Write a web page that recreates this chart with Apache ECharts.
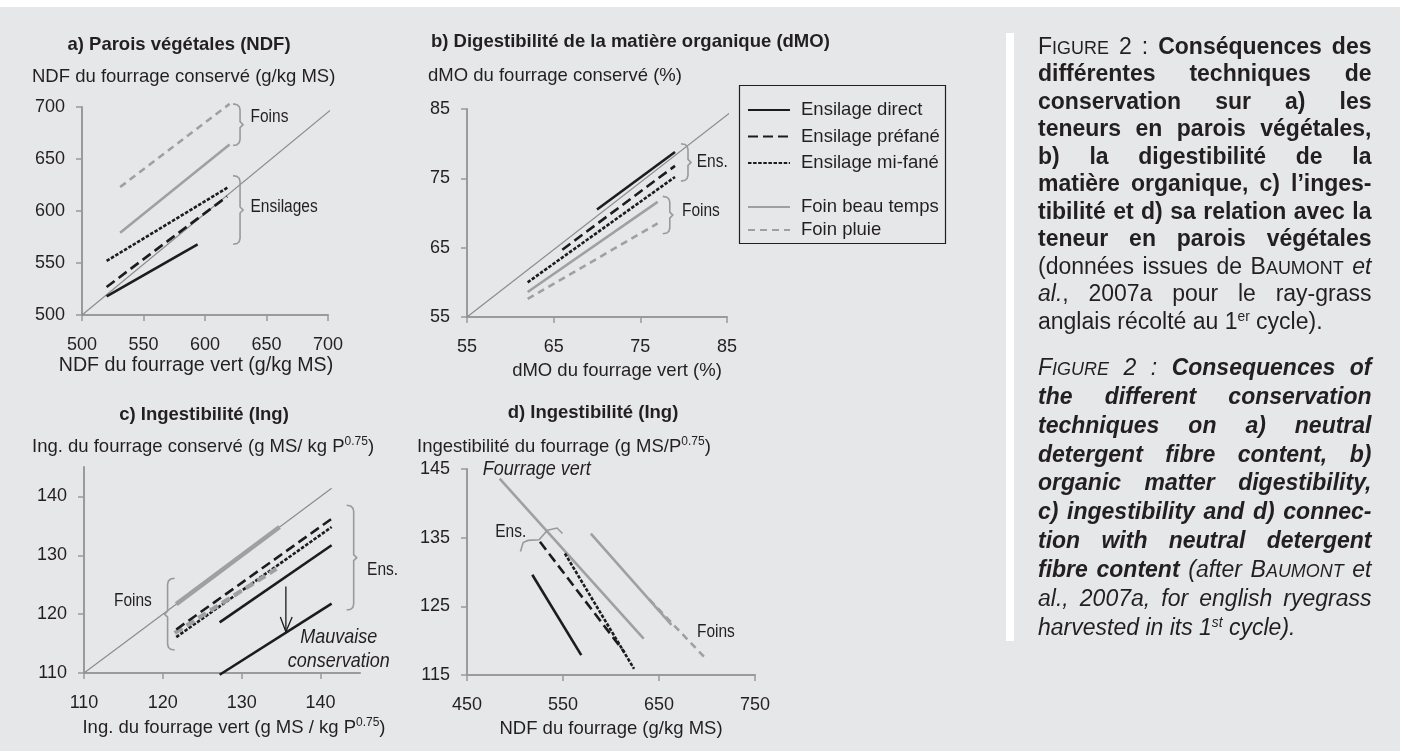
<!DOCTYPE html>
<html><head><meta charset="utf-8">
<script src="https://cdn.jsdelivr.net/npm/echarts@6/dist/echarts.min.js"></script>
<style>html,body{margin:0;padding:0;background:#fff;}#c{width:1405px;height:751px;}</style>
</head><body><div id="c"></div>
<script>
// ---------------- DATA ----------------
const seriesNames = ['Ensilage direct', 'Ensilage préfané', 'Ensilage mi-fané', 'Foin beau temps', 'Foin pluie'];

// a) NDF (g/kg MS): [vert, conservé]
const ndfTicks = [500, 550, 600, 650, 700];
const ndfDiag = [[500, 500], [705, 700]];
const ndfDirect = [[520, 518], [594, 568]];
const ndfPrefane = [[520, 527], [618, 614]];
const ndfMifane = [[520, 552], [619, 623]];
const ndfFoinBeau = [[531, 579], [620, 664]];
const ndfFoinPluie = [[531, 623], [620, 703]];

// b) dMO (%)
const dmoTicks = [55, 65, 75, 85];
const dmoDiag = [[55, 55], [85.9, 85]];
const dmoDirect = [[70, 70.5], [79, 78.8]];
const dmoPrefane = [[66, 64.7], [79, 76.8]];
const dmoMifane = [[62, 60.0], [79, 75.2]];
const dmoFoinBeau = [[62, 58.6], [77, 71.6]];
const dmoFoinPluie = [[62, 57.6], [77, 68.5]];

// c) Ingestibilité (g MS / kg P0.75)
const ingTicks = [110, 120, 130, 140];
const ingDiag = [[110, 110], [141.4, 141.4]];
const ingFoinBeau = [[121.7, 121.7], [134.8, 134.8]];
const ingFoinPluie = [[121.5, 116.8], [134.4, 127.7]];
const ingPrefane = [[121.7, 117.4], [141.4, 136.2]];
const ingMifane = [[121.7, 116.1], [141.4, 134.8]];
const ingDirect = [[127.2, 118.6], [141.4, 131.7]];
const ingMauvaise = [[127.2, 109.7], [141.4, 121.8]];
const ingArrow = [[135.6, 124.7], [135.6, 117.0]];
const ingArrowHead = [[134.9, 119.5], [135.6, 117.0], [136.4, 119.5]];

// d) Ingestibilité vs NDF
const ndfDTicks = [450, 550, 650, 750];
const ingDTicks = [115, 125, 135, 145];
const dVert = [[484, 143.6], [634, 120.3]];
const dFoinBeau = [[579, 135.6], [663, 122.3]];
const dFoinPluie = [[640, 126.0], [700, 117.2]];
const dDirect = [[518, 129.6], [569, 117.9]];
const dPrefane = [[526, 134.4], [614, 118.3]];
const dMifane = [[552, 132.7], [624, 115.9]];

// ---------------- STYLE ----------------
const FONT = 'Liberation Sans';
const INK = '#231f20';
const BG = '#e6e7e8';
const AX = '#9a9a9a';
const BLK = '#1c1c1c';
const GRY = '#a0a0a0';
const FS = 18.5;

const S = {
  direct: {color: BLK, width: 2.6, type: 'solid'},
  prefane: {color: BLK, width: 2.6, type: [10, 5]},
  mifane: {color: BLK, width: 2.6, type: [3.5, 1.6]},
  beau: {color: GRY, width: 2.6, type: 'solid'},
  pluie: {color: GRY, width: 2.6, type: [7, 5]},
  diag: {color: '#8c8c8c', width: 1.2, type: 'solid'},
  arrow: {color: BLK, width: 1.3, type: 'solid'}
};

const chart = echarts.init(document.getElementById('c'), null, {renderer: 'canvas', width: 1405, height: 751});

function axis(g, min, max, ticks, isX, extra) {
  return Object.assign({
    type: 'value', gridIndex: g, min: min, max: max,
    axisLine: {show: true, onZero: false, lineStyle: {color: AX, width: 2}},
    axisTick: {show: true, inside: false, length: 6, customValues: ticks, lineStyle: {color: AX, width: 1.5}},
    axisLabel: {customValues: ticks, color: INK, fontFamily: FONT, fontSize: 18, margin: isX ? 21 : 17},
    splitLine: {show: false}
  }, extra || {});
}
function nameStyle(pad, fs) {
  return {color: INK, fontFamily: FONT, fontSize: fs || FS, lineHeight: 22, padding: pad,
    rich: {sup: {fontSize: 12, lineHeight: 12, verticalAlign: 'top', color: INK, fontFamily: FONT}}};
}
function ln(name, g, data, style, z) {
  return {type: 'line', name: name, xAxisIndex: g, yAxisIndex: g, data: data, symbol: 'none', showSymbol: false,
    lineStyle: style, clip: false, silent: true, z: z || 3, emphasis: {disabled: true}, animation: false};
}

const option = {
  backgroundColor: BG,
  animation: false,
  textStyle: {fontFamily: FONT},
  grid: [
    {left: 82, top: 107, width: 246, height: 208},
    {left: 467, top: 109, width: 260, height: 208},
    {left: 84, top: 467, width: 276, height: 206},
    {left: 467, top: 469, width: 288, height: 206}
  ],
  xAxis: [
    axis(0, 500, 700, ndfTicks, true, {name: 'NDF du fourrage vert (g/kg MS)', nameLocation: 'middle', nameGap: 39, nameTextStyle: nameStyle([0, 18, 0, 0], 19.6)}),
    axis(1, 55, 85, dmoTicks, true, {name: 'dMO du fourrage vert (%)', nameLocation: 'middle', nameGap: 43, nameTextStyle: nameStyle([0, 0, 0, 40])}),
    axis(2, 110, 145, ingTicks, true, {name: 'Ing. du fourrage vert (g MS / kg P{sup|0.75})', nameLocation: 'middle', nameGap: 44, nameTextStyle: nameStyle([0, 0, 0, 24])}),
    axis(3, 450, 750, ndfDTicks, true, {name: 'NDF du fourrage (g/kg MS)', nameLocation: 'middle', nameGap: 43, nameTextStyle: nameStyle([0, 0, 0, 0])})
  ],
  yAxis: [
    axis(0, 500, 700, ndfTicks, false),
    axis(1, 55, 85, dmoTicks, false),
    axis(2, 110, 145, ingTicks, false),
    axis(3, 115, 145, ingDTicks, false)
  ],
  legend: [
    {data: seriesNames.slice(0, 3), orient: 'vertical', left: 742, top: 95, itemWidth: 42, itemHeight: 14, itemGap: 6.5,
      selectedMode: false, itemStyle: {opacity: 0},
      textStyle: {color: INK, fontFamily: FONT, fontSize: FS, lineHeight: 20, padding: [0, 0, 0, 6]}},
    {data: seriesNames.slice(3), orient: 'vertical', left: 742, top: 192, itemWidth: 42, itemHeight: 14, itemGap: 3,
      selectedMode: false, itemStyle: {opacity: 0},
      textStyle: {color: INK, fontFamily: FONT, fontSize: FS, lineHeight: 20, padding: [0, 0, 0, 6]}}
  ],
  series: [
    // a
    ln(null, 0, ndfDiag, S.diag, 2),
    ln(seriesNames[4], 0, ndfFoinPluie, S.pluie),
    ln(seriesNames[3], 0, ndfFoinBeau, S.beau),
    ln(seriesNames[2], 0, ndfMifane, S.mifane),
    ln(seriesNames[1], 0, ndfPrefane, S.prefane),
    ln(seriesNames[0], 0, ndfDirect, S.direct),
    // b
    ln(null, 1, dmoDiag, S.diag, 2),
    ln(seriesNames[4], 1, dmoFoinPluie, S.pluie),
    ln(seriesNames[3], 1, dmoFoinBeau, S.beau),
    ln(seriesNames[2], 1, dmoMifane, S.mifane),
    ln(seriesNames[1], 1, dmoPrefane, S.prefane),
    ln(seriesNames[0], 1, dmoDirect, S.direct),
    // c
    ln(null, 2, ingDiag, S.diag, 2),
    ln(seriesNames[3], 2, ingFoinBeau, Object.assign({}, S.beau, {width: 4.5})),
    ln(seriesNames[2], 2, ingMifane, S.mifane),
    ln(seriesNames[4], 2, ingFoinPluie, Object.assign({}, S.pluie, {width: 4.2, type: [9, 5]})),
    ln(seriesNames[1], 2, ingPrefane, S.prefane),
    ln(seriesNames[0], 2, ingDirect, S.direct),
    ln(null, 2, ingMauvaise, S.direct),
    ln(null, 2, ingArrow, S.arrow),
    ln(null, 2, ingArrowHead, S.arrow),
    // d
    ln(null, 3, dVert, S.beau, 2),
    ln(seriesNames[3], 3, dFoinBeau, S.beau),
    ln(seriesNames[4], 3, dFoinPluie, S.pluie),
    ln(seriesNames[0], 3, dDirect, S.direct),
    ln(seriesNames[1], 3, dPrefane, S.prefane),
    ln(seriesNames[2], 3, dMifane, S.mifane)
  ]
};
chart.setOption(option);

// ---------------- ANNOTATIONS ----------------
const px = (g, p) => chart.convertToPixel({gridIndex: g}, p);
const BRK = '#9a9a9a';
const graphics = [];

// page frame
graphics.push({type: 'rect', shape: {x: 0, y: 0, width: 1405, height: 7}, style: {fill: '#fff'}, silent: true, z: 100});
graphics.push({type: 'rect', shape: {x: 1400, y: 0, width: 5, height: 751}, style: {fill: '#fff'}, silent: true, z: 100});
graphics.push({type: 'rect', shape: {x: 1006, y: 33, width: 8, height: 608}, style: {fill: '#fff'}, silent: true, z: 100});
// legend frame
graphics.push({type: 'rect', shape: {x: 739.5, y: 85.5, width: 206, height: 158}, style: {fill: 'none', stroke: INK, lineWidth: 1.2}, silent: true, z: 100});

function txt(x, y, text, o) {
  o = o || {};
  graphics.push({type: 'text', x: x, y: y, scaleY: o.sy || 1, silent: true, z: 100, style: {
    text: text, fill: INK, fontFamily: FONT, fontSize: o.fs || FS, fontWeight: o.bold ? 'bold' : 'normal',
    fontStyle: o.italic ? 'italic' : 'normal', align: o.align || 'left', verticalAlign: 'middle',
    lineHeight: 22,
    rich: {sup: {fontSize: 12, lineHeight: 12, verticalAlign: 'top', fill: INK, fontFamily: FONT}}
  }});
}
// panel titles and y-axis names
txt(179, 45, 'a) Parois végétales (NDF)', {bold: true, align: 'center'});
txt(431, 42, 'b) Digestibilité de la matière organique (dMO)', {bold: true});
txt(204, 415, 'c) Ingestibilité (Ing)', {bold: true, align: 'center'});
txt(593, 413, 'd) Ingestibilité (Ing)', {bold: true, align: 'center'});
txt(32, 77, 'NDF du fourrage conservé (g/kg MS)');
txt(428, 76, 'dMO du fourrage conservé (%)');
txt(32, 447, 'Ing. du fourrage conservé (g MS/ kg P{sup|0.75})');
txt(417, 447, 'Ingestibilité du fourrage (g MS/P{sup|0.75})');

// brackets (data coordinates)
const vBrackets = [
  {g: 0, x: 628.5, y1: 703, y2: 663, dir: 1},
  {g: 0, x: 628.5, y1: 634, y2: 568, dir: 1},
  {g: 1, x: 80.5, y1: 80, y2: 74.6, dir: 1},
  {g: 1, x: 78.4, y1: 72.4, y2: 67, dir: 1},
  {g: 2, x: 120.6, y1: 126.1, y2: 113.9, dir: -1},
  {g: 2, x: 144.2, y1: 138.5, y2: 120.7, dir: 1}
];
vBrackets.forEach(b => {
  const p1 = px(b.g, [b.x, b.y1]), p2 = px(b.g, [b.x, b.y2]);
  const X = p1[0], Y1 = p1[1], Y2 = p2[1], Ym = (Y1 + Y2) / 2, d = b.dir;
  const pts = [[X - d * 7, Y1], [X - d * 3, Y1 + 0.8], [X - d * 0.8, Y1 + 2.8], [X, Y1 + 6],
    [X, Ym - 3], [X + d * 3, Ym], [X, Ym + 3],
    [X, Y2 - 6], [X - d * 0.8, Y2 - 2.8], [X - d * 3, Y2 - 0.8], [X - d * 7, Y2]];
  graphics.push({type: 'polyline', shape: {points: pts}, style: {fill: 'none', stroke: BRK, lineWidth: 1.6}, silent: true, z: 100});
});
const dEnsBracket = [[505.7, 133.0], [508.5, 134.3], [513.6, 134.6], [525.1, 134.7], [533.8, 136.1], [543.8, 136.4], [549.5, 135.6]];
graphics.push({type: 'polyline', shape: {points: dEnsBracket.map(p => px(3, p))},
  style: {fill: 'none', stroke: BRK, lineWidth: 1.6}, silent: true, z: 100});

const notes = [
  {g: 0, x: 637, y: 690.5, t: 'Foins', fs: 15.5, sy: 1.22},
  {g: 0, x: 637, y: 604, t: 'Ensilages', fs: 15.5, sy: 1.22},
  {g: 1, x: 81.5, y: 77.4, t: 'Ens.', fs: 15.5, sy: 1.22},
  {g: 1, x: 79.8, y: 70.3, t: 'Foins', fs: 15.5, sy: 1.22},
  {g: 2, x: 118.6, y: 122.3, t: 'Foins', fs: 15.5, sy: 1.22, align: 'right'},
  {g: 2, x: 145.9, y: 127.5, t: 'Ens.', fs: 15.5, sy: 1.22},
  {g: 2, x: 142.3, y: 116.0, t: 'Mauvaise', fs: 18, sy: 1.08, italic: true, align: 'center'},
  {g: 2, x: 142.3, y: 112.0, t: 'conservation', fs: 18, sy: 1.08, italic: true, align: 'center'},
  {g: 3, x: 495.6, y: 135.9, t: 'Ens.', fs: 15.5, sy: 1.22, align: 'center'},
  {g: 3, x: 689.5, y: 121.3, t: 'Foins', fs: 15.5, sy: 1.22},
  {g: 3, x: 466.4, y: 144.9, t: 'Fourrage vert', fs: 18, sy: 1.08, italic: true}
];
notes.forEach(n => { const p = px(n.g, [n.x, n.y]); txt(p[0], p[1], n.t, n); });

// ---------------- CAPTION (justified) ----------------
const frLines = [
  {j: true, segs: [['R', 'F'], ['SC', 'IGURE'], ['R', ' 2 : '], ['B', 'Conséquences des']]},
  {j: true, segs: [['B', 'différentes techniques de']]},
  {j: true, segs: [['B', 'conservation sur a) les']]},
  {j: true, segs: [['B', 'teneurs en parois végétales,']]},
  {j: true, segs: [['B', 'b) la digestibilité de la']]},
  {j: true, segs: [['B', 'matière organique, c) l’inges-']]},
  {j: true, segs: [['B', 'tibilité et d) sa relation avec la']]},
  {j: true, segs: [['B', 'teneur en parois végétales']]},
  {j: true, segs: [['R', '(données issues de B'], ['SC', 'AUMONT'], ['R', ' '], ['I', 'et']]},
  {j: true, segs: [['I', 'al.'], ['R', ', 2007a pour le ray-grass']]},
  {j: false, segs: [['R', 'anglais récolté au 1'], ['SUP', 'er'], ['R', ' cycle).']]}
];
const enLines = [
  {j: true, segs: [['I', 'F'], ['SCI', 'IGURE'], ['I', ' 2 : '], ['BI', 'Consequences of']]},
  {j: true, segs: [['BI', 'the different conservation']]},
  {j: true, segs: [['BI', 'techniques on a) neutral']]},
  {j: true, segs: [['BI', 'detergent fibre content, b)']]},
  {j: true, segs: [['BI', 'organic matter digestibility,']]},
  {j: true, segs: [['BI', 'c) ingestibility and d) connec-']]},
  {j: true, segs: [['BI', 'tion with neutral detergent']]},
  {j: true, segs: [['BI', 'fibre content'], ['I', ' (after B'], ['SCI', 'AUMONT'], ['I', ' et']]},
  {j: true, segs: [['I', 'al., 2007a, for english ryegrass']]},
  {j: false, segs: [['I', 'harvested in its 1'], ['SUPI', 'st'], ['I', ' cycle).']]}
];
const TFS = 23;
const tStyles = {
  R: {fontSize: TFS}, B: {fontSize: TFS, fontWeight: 'bold'}, I: {fontSize: TFS, fontStyle: 'italic'},
  BI: {fontSize: TFS, fontWeight: 'bold', fontStyle: 'italic'},
  SC: {fontSize: TFS * 0.78}, SCI: {fontSize: TFS * 0.78, fontStyle: 'italic'},
  SUP: {fontSize: TFS * 0.6, sup: true}, SUPI: {fontSize: TFS * 0.6, fontStyle: 'italic', sup: true}
};
const mctx = document.createElement('canvas').getContext('2d');
function cssFont(st) { return (st.fontStyle || 'normal') + ' ' + (st.fontWeight || 'normal') + ' ' + st.fontSize + 'px "' + FONT + '"'; }
function mw(t, st) { mctx.font = cssFont(st); return mctx.measureText(t).width; }
function layoutBlock(lines, y0, step, x0, x1) {
  lines.forEach((line, i) => {
    const words = []; let cur = [];
    line.segs.forEach(([k, t]) => {
      t.split(' ').forEach((part, idx) => {
        if (idx > 0 && cur.length) { words.push(cur); cur = []; }
        if (part) cur.push({k: k, t: part});
      });
    });
    if (cur.length) words.push(cur);
    const widths = words.map(w => w.reduce((s, tk) => s + mw(tk.t, tStyles[tk.k]), 0));
    const total = widths.reduce((a, b) => a + b, 0);
    const gap = (line.j && words.length > 1) ? (x1 - x0 - total) / (words.length - 1) : mw(' ', tStyles.R);
    let x = x0; const y = y0 + i * step;
    words.forEach(w => {
      w.forEach(tk => {
        const st = tStyles[tk.k];
        let dy = 0;
        if (st.sup) dy = -0.22 * TFS; else if (st.fontSize < TFS) dy = 0.33 * (TFS - st.fontSize);
        graphics.push({type: 'text', x: x, y: y + dy, silent: true, z: 100, style: {
          text: tk.t, fill: INK, fontFamily: FONT, fontSize: st.fontSize, fontWeight: st.fontWeight || 'normal',
          fontStyle: st.fontStyle || 'normal', align: 'left', verticalAlign: 'middle'}});
        x += mw(tk.t, st);
      });
      x += gap;
    });
  });
}
layoutBlock(frLines, 47.5, 27.5, 1038, 1371.5);
layoutBlock(enLines, 368.5, 28.9, 1038, 1371.5);

chart.setOption({graphic: graphics});
</script>
</body></html>
